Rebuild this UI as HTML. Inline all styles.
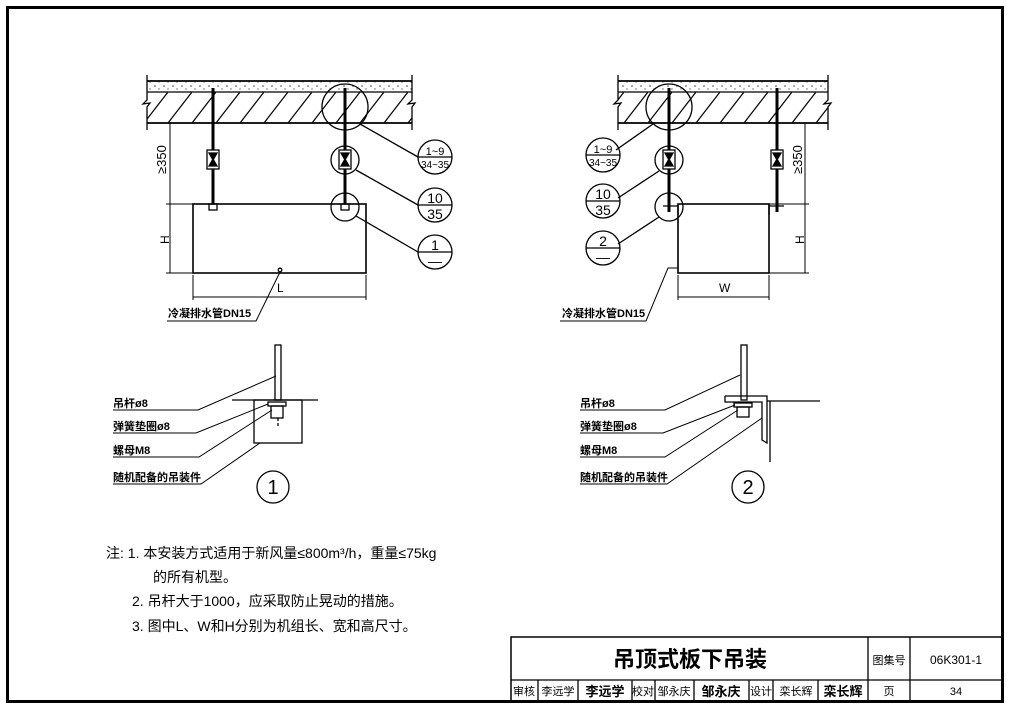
<!DOCTYPE html>
<html><head><meta charset="utf-8"><style>
html,body{margin:0;padding:0;background:#fff;}
svg{display:block;}
text{font-family:"Liberation Sans","Noto Sans CJK SC",sans-serif;fill:#000;}
</style></head><body>
<svg width="1010" height="709" viewBox="0 0 1010 709" xmlns="http://www.w3.org/2000/svg">
<defs>
<pattern id="hat" width="24" height="31" patternUnits="userSpaceOnUse" patternTransform="translate(0,92)">
<line x1="0" y1="31" x2="24" y2="0" stroke="#000" stroke-width="1.2"/>
</pattern>
<pattern id="dots" width="9" height="7" patternUnits="userSpaceOnUse">
<circle cx="2" cy="2" r="0.8" fill="#444"/><circle cx="6" cy="5" r="0.7" fill="#666"/>
</pattern>
</defs>
<rect x="7.5" y="7.5" width="995" height="694" fill="none" stroke="#000" stroke-width="3"/>

<g stroke="#000" fill="none" stroke-width="1.3">
<rect x="147" y="81" width="265" height="11" fill="url(#dots)" stroke="none"/>
<rect x="147" y="92" width="265" height="31" fill="url(#hat)" stroke="none"/>
<line x1="147" y1="81" x2="412" y2="81" stroke-width="1.8"/>
<line x1="147" y1="92" x2="412" y2="92"/>
<line x1="147" y1="123" x2="412" y2="123" stroke-width="1.8"/>
<polyline points="147,75 147,100 143,104 150,103 147,107 147,130"/>
<polyline points="412,75 412,100 408,104 415,103 412,107 412,130"/>
<line x1="213" y1="88" x2="213" y2="205" stroke-width="3"/>
<line x1="345" y1="88" x2="345" y2="205" stroke-width="3"/>
<rect x="207" y="150" width="12" height="19" fill="#fff"/>
<path d="M209,153 L217,153 L213,160 Z M209,166 L217,166 L213,159 Z" fill="#000"/>
<rect x="339" y="150" width="12" height="19" fill="#fff"/>
<path d="M341,153 L349,153 L345,160 Z M341,166 L349,166 L345,159 Z" fill="#000"/>
<rect x="209" y="204" width="8" height="6" fill="#fff"/>
<rect x="341" y="204" width="8" height="6" fill="#fff"/>
<rect x="193" y="204" width="173" height="69" stroke-width="1.6"/>
<circle cx="280" cy="270" r="1.8"/>
<line x1="170" y1="123" x2="170" y2="273" stroke-width="1"/>
<line x1="166" y1="204" x2="193" y2="204" stroke-width="1"/>
<line x1="166" y1="273" x2="193" y2="273" stroke-width="1"/>
<line x1="193" y1="275" x2="193" y2="300" stroke-width="1"/>
<line x1="366" y1="275" x2="366" y2="300" stroke-width="1"/>
<line x1="193" y1="297" x2="366" y2="297" stroke-width="1"/>
<polyline points="280,272 256,321 167,321" stroke-width="1"/>
<circle cx="345" cy="107" r="23"/>
<circle cx="345" cy="160" r="14"/>
<circle cx="345" cy="207" r="14"/>
<line x1="360" y1="124" x2="418" y2="157"/>
<line x1="356" y1="170" x2="418" y2="205"/>
<line x1="356" y1="216" x2="418" y2="252"/>
<circle cx="435" cy="157" r="17"/><line x1="418" y1="157" x2="452" y2="157"/>
<circle cx="435" cy="205" r="17"/><line x1="418" y1="205" x2="452" y2="205"/>
<circle cx="435" cy="252" r="17"/><line x1="418" y1="252" x2="452" y2="252"/>

<rect x="618" y="81" width="210" height="11" fill="url(#dots)" stroke="none"/>
<rect x="618" y="92" width="210" height="31" fill="url(#hat)" stroke="none"/>
<line x1="618" y1="81" x2="828" y2="81" stroke-width="1.8"/>
<line x1="618" y1="92" x2="828" y2="92"/>
<line x1="618" y1="123" x2="828" y2="123" stroke-width="1.8"/>
<polyline points="618,75 618,100 614,104 621,103 618,107 618,130"/>
<polyline points="828,75 828,100 824,104 831,103 828,107 828,130"/>
<line x1="669" y1="88" x2="669" y2="212" stroke-width="3"/>
<line x1="777" y1="88" x2="777" y2="212" stroke-width="3"/>
<rect x="663" y="150" width="12" height="19" fill="#fff"/>
<path d="M665,153 L673,153 L669,160 Z M665,166 L673,166 L669,159 Z" fill="#000"/>
<rect x="771" y="150" width="12" height="19" fill="#fff"/>
<path d="M773,153 L781,153 L777,160 Z M773,166 L781,166 L777,159 Z" fill="#000"/>
<rect x="678" y="204" width="91" height="69" stroke-width="1.6"/>
<polyline points="663,206 678,206 678,215"/>
<polyline points="784,206 769,206 769,215"/>
<polyline points="678,268 668,268 646,321 560,321" stroke-width="1"/>
<line x1="805" y1="123" x2="805" y2="273" stroke-width="1"/>
<line x1="769" y1="204" x2="809" y2="204" stroke-width="1"/>
<line x1="769" y1="273" x2="809" y2="273" stroke-width="1"/>
<line x1="678" y1="275" x2="678" y2="300" stroke-width="1"/>
<line x1="769" y1="275" x2="769" y2="300" stroke-width="1"/>
<line x1="678" y1="297" x2="769" y2="297" stroke-width="1"/>
<circle cx="669" cy="107" r="23"/>
<circle cx="669" cy="160" r="14"/>
<circle cx="669" cy="207" r="14"/>
<line x1="653" y1="124" x2="616" y2="150"/>
<line x1="659" y1="171" x2="618" y2="198"/>
<line x1="659" y1="217" x2="618" y2="244"/>
<circle cx="603" cy="155" r="17"/><line x1="586" y1="155" x2="620" y2="155"/>
<circle cx="603" cy="201" r="17"/><line x1="586" y1="201" x2="620" y2="201"/>
<circle cx="603" cy="248" r="17"/><line x1="586" y1="248" x2="620" y2="248"/>

<rect x="275" y="345" width="6" height="55"/>
<line x1="232" y1="400" x2="318" y2="400"/>
<rect x="254" y="400" width="48" height="43"/>
<rect x="268" y="402" width="18" height="4"/>
<rect x="271" y="406" width="12" height="12"/>
<line x1="278" y1="418" x2="278" y2="427" stroke-dasharray="3,2"/>
<polyline points="113,410 198,410 276,376" stroke-width="1"/>
<polyline points="113,433 196,433 268,404" stroke-width="1"/>
<polyline points="113,457 199,457 272,410" stroke-width="1"/>
<polyline points="113,484 201,484 260,443" stroke-width="1"/>
<circle cx="273" cy="487" r="16"/>

<rect x="741" y="345" width="6" height="55"/>
<polyline points="725,396 767,396 767,443 762,440 762,402 725,402 725,396"/>
<line x1="767" y1="401" x2="820" y2="401"/>
<line x1="770" y1="401" x2="770" y2="462"/>
<rect x="734" y="403" width="18" height="4"/>
<rect x="737" y="407" width="12" height="10"/>
<polyline points="580,410 665,410 740,375" stroke-width="1"/>
<polyline points="580,433 663,433 735,405" stroke-width="1"/>
<polyline points="580,457 665,457 738,410" stroke-width="1"/>
<polyline points="580,484 667,484 762,418" stroke-width="1"/>
<circle cx="748" cy="487" r="16"/>

<rect x="511" y="637" width="491" height="64" stroke-width="1.5"/>
<line x1="511" y1="680" x2="1002" y2="680"/>
<line x1="868" y1="637" x2="868" y2="701"/>
<line x1="910" y1="637" x2="910" y2="701"/>
<line x1="538" y1="680" x2="538" y2="701"/>
<line x1="578" y1="680" x2="578" y2="701"/>
<line x1="632" y1="680" x2="632" y2="701"/>
<line x1="655" y1="680" x2="655" y2="701"/>
<line x1="694" y1="680" x2="694" y2="701"/>
<line x1="749" y1="680" x2="749" y2="701"/>
<line x1="773" y1="680" x2="773" y2="701"/>
<line x1="818" y1="680" x2="818" y2="701"/>
</g>

<g font-size="11">
<text x="146" y="166" transform="rotate(-90 160 160)" font-size="13">≥350</text>
<text x="161" y="244" font-size="12" transform="rotate(-90 165 240)">H</text>
<text x="277" y="292" font-size="12">L</text>
<text x="168" y="317" font-weight="bold">冷凝排水管DN15</text>
<text x="435" y="155" text-anchor="middle" font-size="11">1~9</text>
<text x="435" y="168" text-anchor="middle" font-size="10">34~35</text>
<text x="435" y="203" text-anchor="middle" font-size="14">10</text>
<text x="435" y="219" text-anchor="middle" font-size="14">35</text>
<text x="435" y="250" text-anchor="middle" font-size="14">1</text>
<text x="435" y="266" text-anchor="middle" font-size="14">—</text>

<text x="782" y="166" font-size="13" transform="rotate(-90 796 160)">≥350</text>
<text x="796" y="244" font-size="12" transform="rotate(-90 800 240)">H</text>
<text x="719" y="292" font-size="12">W</text>
<text x="562" y="317" font-weight="bold">冷凝排水管DN15</text>
<text x="603" y="153" text-anchor="middle" font-size="11">1~9</text>
<text x="603" y="166" text-anchor="middle" font-size="10">34~35</text>
<text x="603" y="199" text-anchor="middle" font-size="14">10</text>
<text x="603" y="215" text-anchor="middle" font-size="14">35</text>
<text x="603" y="246" text-anchor="middle" font-size="14">2</text>
<text x="603" y="262" text-anchor="middle" font-size="14">—</text>

<text x="113" y="407" font-weight="bold">吊杆ø8</text>
<text x="113" y="430" font-weight="bold">弹簧垫圈ø8</text>
<text x="113" y="454" font-weight="bold">螺母M8</text>
<text x="113" y="481" font-weight="bold">随机配备的吊装件</text>
<text x="273" y="494" text-anchor="middle" font-size="20">1</text>
<text x="580" y="407" font-weight="bold">吊杆ø8</text>
<text x="580" y="430" font-weight="bold">弹簧垫圈ø8</text>
<text x="580" y="454" font-weight="bold">螺母M8</text>
<text x="580" y="481" font-weight="bold">随机配备的吊装件</text>
<text x="748" y="494" text-anchor="middle" font-size="20">2</text>
</g>
<g font-size="14">
<text x="106" y="558">注:  1.  本安装方式适用于新风量≤800m³/h，重量≤75kg</text>
<text x="153" y="582">的所有机型。</text>
<text x="132" y="606">2.  吊杆大于1000，应采取防止晃动的措施。</text>
<text x="132" y="631">3.  图中L、W和H分别为机组长、宽和高尺寸。</text>
</g>
<text x="690" y="667" text-anchor="middle" font-size="22" font-weight="bold">吊顶式板下吊装</text>
<text x="889" y="664" text-anchor="middle" font-size="11">图集号</text>
<text x="956" y="664" text-anchor="middle" font-size="12" font-family="Liberation Serif">06K301-1</text>
<g font-size="11">
<text x="524" y="695" text-anchor="middle">审核</text>
<text x="558" y="695" text-anchor="middle">李远学</text>
<text x="605" y="696" text-anchor="middle" font-weight="bold" font-size="13">李远学</text>
<text x="643" y="695" text-anchor="middle">校对</text>
<text x="674" y="695" text-anchor="middle">邹永庆</text>
<text x="721" y="696" text-anchor="middle" font-weight="bold" font-size="13">邹永庆</text>
<text x="761" y="695" text-anchor="middle">设计</text>
<text x="796" y="695" text-anchor="middle">栾长辉</text>
<text x="843" y="696" text-anchor="middle" font-weight="bold" font-size="13">栾长辉</text>
<text x="889" y="695" text-anchor="middle">页</text>
<text x="956" y="695" text-anchor="middle" font-family="Liberation Serif">34</text>
</g>
</svg>
</body></html>
